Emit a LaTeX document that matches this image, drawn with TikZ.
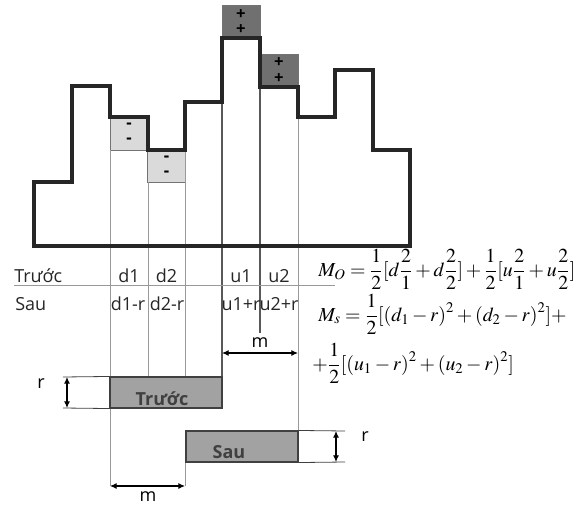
\documentclass[tikz,border=0pt]{standalone}
\usepackage{mathptmx}
\usepackage[no-math]{fontspec}
\setmainfont{Liberation Serif}
\setsansfont{Open Sans}
\usepackage{tikz}
\usetikzlibrary{arrows.meta,positioning,calc}
\definecolor{lightshade}{RGB}{218,218,218}
\definecolor{darkshade}{RGB}{112,112,112}
\definecolor{barshade}{RGB}{162,162,162}

\begin{document}
\begin{tikzpicture}[
    x=0.75pt, y=-0.75pt,
    outline/.style={draw=black!85, line width=2.4pt, line join=miter},
    guide/.style={draw=black!40, line width=0.6pt},
    darkguide/.style={draw=black!65, line width=0.8pt},
    signbox/.style={draw=black!55, line width=0.6pt, align=center, inner sep=0pt,
                minimum width=28.5pt, minimum height=24.75pt,
                font=\sffamily\bfseries\fontsize{12.5}{11.5}\selectfont},
    minusbox/.style={signbox, fill=lightshade},
    plusbox/.style={signbox, fill=darkshade},
    bar/.style={draw=black!75, fill=barshade, line width=0.8pt, inner sep=0pt,
                minimum width=84pt, minimum height=23.25pt},
    bartext/.style={anchor=base, text=black!75,
                font=\sffamily\bfseries\fontsize{13.5}{16}\selectfont},
    cell/.style={anchor=base, inner sep=0pt, text=black!85,
                font=\sffamily\fontsize{13.5}{16}\selectfont},
    rowlabel/.style={cell, anchor=base west},
    formula/.style={anchor=base west, inner sep=0pt, font=\fontsize{14.9}{18}\selectfont},
    dim/.style={{Latex[length=5pt,width=4.5pt]}-{Latex[length=5pt,width=4.5pt]}, line width=0.8pt},
    dimlabel/.style={inner sep=0pt, font=\sffamily\fontsize{13.5}{16}\selectfont}
]
\useasboundingbox (0,0) rectangle (585,506);

% shaded cells
\node[minusbox] (minus1) at (129,133.5) {-\\-};
\node[minusbox] (minus2) at (166.5,166) {-\\-};
\node[plusbox] (plus1) at (241,22) {+\\+};
\node[plusbox] (plus2) at (279,70.5) {+\\+};

% column guides
\draw[guide] (110,150) -- (110,486);
\draw[guide] (148,182) -- (148,377);
\draw[guide] (185,150) -- (185,377);
\draw[guide] (185,431) -- (185,486);
\draw[darkguide] (222,38) -- (222,408);
\draw[darkguide] (260,87) -- (260,333);
\draw[guide] (298,117) -- (298,462);

% histogram
\draw[outline] (34,246) -- (34,182) -- (72,182) -- (72,86) -- (110,86)
    -- (110,117) -- (148,117) -- (148,150) -- (185,150) -- (185,102)
    -- (222,102) -- (222,38) -- (260,38) -- (260,87) -- (298,87)
    -- (298,117) -- (335,117) -- (335,70) -- (373,70) -- (373,150)
    -- (410,150) -- (410,246) -- cycle;

% table
\draw[guide] (14,285) -- (335,285);
\node[rowlabel] (before) at (14,282) {Trước};
\node[cell] (d1) at (129,282) {d1};
\node[cell] (d2) at (166.5,282) {d2};
\node[cell] (u1) at (241,282) {u1};
\node[cell] (u2) at (279,282) {u2};
\node[rowlabel] (after) at (15,310) {Sau};
\node[cell] (d1r) at (128,310) {d1-r};
\node[cell] (d2r) at (167,310) {d2-r};
\node[cell] (u1r) at (241,310) {u1+r};
\node[cell] (u2r) at (279,310) {u2+r};

% formulas
\node[formula] (mo) at (318,276)
    {$\displaystyle M_O=\frac{1}{2}[d\frac{2}{1}+d\frac{2}{2}]+\frac{1}{2}[u\frac{2}{1}+u\frac{2}{2}]$};
\node[formula] (ms) at (318,321)
    {$\displaystyle M_s=\frac{1}{2}[(d_1-r)^2+(d_2-r)^2]+$};
\node[formula] (ms2) at (312,370)
    {$\displaystyle +\frac{1}{2}[(u_1-r)^2+(u_2-r)^2]$};

% shifted blocks
\node[bar] (truoc) at (166,392.5) {};
\node[bartext] (truoctext) at (162,405) {Trước};
\node[bar] (sau) at (242,446.5) {};
\node[bartext] (sautext) at (229,458) {Sau};

% dimensions
\coordinate (rtopa) at (63,377);
\coordinate (rbota) at (63,408);
\coordinate (rtopb) at (345,431);
\coordinate (rbotb) at (345,462);
\draw[guide, draw=black!75] (rtopa) -- (truoc.north west);
\draw[guide, draw=black!75] (rbota) -- (truoc.south west);
\draw[guide, draw=black!75] (sau.north east) -- (rtopb);
\draw[guide, draw=black!75] (sau.south east) -- (rbotb);
\draw[dim] ($(rtopa)+(4,0)$) -- ($(rbota)+(4,0)$);
\draw[dim] ($(rtopb)+(-9,0)$) -- ($(rbotb)+(-9,0)$);
\node[dimlabel] (rleft) at (41,384) {r};
\node[dimlabel] (rright) at (365,437) {r};

\coordinate (ma) at (110,486);
\coordinate (mb) at (185,486);
\coordinate (mc) at (222,353);
\coordinate (md) at (298,353);
\draw[dim] (ma) -- (mb);
\draw[dim] (mc) -- (md);
\node[dimlabel] (mlow) at (148,497) {m};
\node[dimlabel] (mhigh) at (260,343) {m};

\end{tikzpicture}
\end{document}
